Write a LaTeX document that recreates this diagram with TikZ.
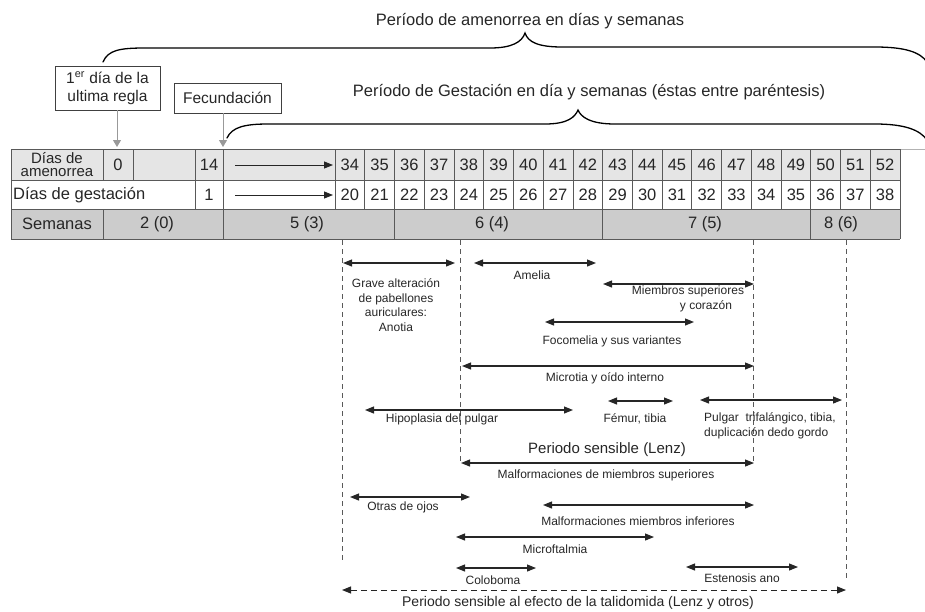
\documentclass[tikz,border=0pt]{standalone}
\usepackage{fontspec}
\setmainfont{Liberation Sans}
\usetikzlibrary{arrows.meta}
\definecolor{txt}{gray}{0.15}
\definecolor{rowa}{gray}{0.9}
\definecolor{rowc}{gray}{0.8}
\definecolor{gridc}{gray}{0.35}
\definecolor{garr}{gray}{0.6}
\definecolor{dshc}{gray}{0.35}
\newcommand{\fsz}[2]{\fontsize{#1}{#2}\selectfont}
\begin{document}
\begin{tikzpicture}[x=1pt,y=-1pt,
  lbl/.style={font=\fsz{12}{14.5}, text=txt, inner sep=0pt, align=center},
  tbl/.style={font=\fsz{16.5}{14}, text=txt, inner sep=0pt, align=center},
  ttl/.style={font=\fsz{16.5}{19}, text=txt, inner sep=0pt},
  dbl/.style={{Triangle[length=9pt,width=7pt]}-{Triangle[length=9pt,width=7pt]}, line width=1.1pt, draw=black!85},
  tarr/.style={-{Triangle[length=9pt,width=7pt]}, line width=0.9pt, draw=black!85},
  vdash/.style={draw=dshc, line width=0.9pt, dash pattern=on 5pt off 4pt},
  hdash/.style={{Triangle[length=9pt,width=7pt]}-{Triangle[length=9pt,width=7pt]}, draw=black!85, line width=1pt, dash pattern=on 6pt off 4pt},
  brc/.style={draw=black, line width=1.3pt, line cap=round},
  gbox/.style={draw=black!75, line width=0.8pt, inner sep=0pt, font=\fsz{15.5}{18}, text=txt, align=center},
  garrow/.style={-{Triangle[length=7pt,width=8pt]}, draw=garr, line width=1pt},
  gridl/.style={draw=gridc, line width=0.8pt}
]
\useasboundingbox (0,0) rectangle (925,611);

% ---------- titles and braces ----------
\node[ttl] (t1) at (530,21) {Período de amenorrea en días y semanas};
\node[ttl] (t2) at (589,92) {Período de Gestación en día y semanas (éstas entre paréntesis)};
\draw[brc] (103,62) .. controls (108,50) and (120,48) .. (145,48) -- (490,48)
  .. controls (512,48) and (522,42) .. (525,33) .. controls (528,42) and (538,47) .. (562,47)
  -- (875,47) .. controls (905,47) and (920,52) .. (927,62);
\draw[brc] (227,138) .. controls (232,127) and (245,124) .. (268,124) -- (545,124)
  .. controls (568,124) and (575,117) .. (578,110) .. controls (581,117) and (590,124) .. (615,124)
  -- (875,124) .. controls (905,124) and (920,130) .. (927,140);

% ---------- boxes ----------
\node[gbox, minimum width=105pt, minimum height=44pt] (b1) at (107.5,88) {1\textsuperscript{er} día de la\\ultima regla};
\node[gbox, minimum width=107pt, minimum height=30pt] (b2) at (227.5,98) {Fecundación};
\coordinate (p0) at (117,147);
\coordinate (p14) at (223,147);
\draw[garrow] (p0 |- b1.south) -- (p0);
\draw[garrow] (p14 |- b2.south) -- (p14);

% ---------- table ----------
\fill[rowa] (11,149) rectangle (900,180);
\fill[white] (11,180) rectangle (900,209);
\fill[rowc] (11,209) rectangle (900,239);
\draw[draw=gray!60, line width=0.8pt] (900,149) -- (925,149);
\foreach \yy in {149,180,209,239} \draw[gridl] (11,\yy) -- (900,\yy);
\foreach \xx in {11,103,133,195,223,335,900} \draw[gridl] (\xx,149) -- (\xx,180);
\foreach \xx in {11,195,223,335,900} \draw[gridl] (\xx,180) -- (\xx,209);
\foreach \xx in {11,103,223,394.47,602.63,810.79,900} \draw[gridl] (\xx,209) -- (\xx,239);
\foreach \i in {1,...,18} \draw[gridl] ({335+\i*565/19},149) -- ({335+\i*565/19},209);
\foreach \i in {0,...,18} {
  \pgfmathsetmacro\xa{335+\i*565/19+14.87}
  \pgfmathtruncatemacro\na{34+\i}
  \pgfmathtruncatemacro\ng{20+\i}
  \node[tbl] (am\na) at (\xa,165) {\na};
  \node[tbl] (ge\ng) at (\xa,195) {\ng};
}
\node[tbl, font=\fsz{15}{13.5}] (hdA) at (57,164.5) {Días de\\amenorrea};
\node[tbl] (n0) at (118,165) {0};
\node[tbl] (n14) at (209,165) {14};
\node[tbl, anchor=west] (hdG) at (13,195) {Días de gestación};
\node[tbl] (n1) at (209,195) {1};
\coordinate (ra1) at (235,165); \coordinate (rb1) at (333,165);
\coordinate (ra2) at (235,195); \coordinate (rb2) at (333,195);
\draw[tarr] (ra1) -- (rb1);
\draw[tarr] (ra2) -- (rb2);
\node[tbl] (hdS) at (57,224) {Semanas};
\node[tbl] (w2) at (157,224) {2 (0)};
\node[tbl] (w5) at (307,224) {5 (3)};
\node[tbl] (w6) at (492,224) {6 (4)};
\node[tbl] (w7) at (705,224) {7 (5)};
\node[tbl] (w8) at (841,224) {8 (6)};

% ---------- dashed verticals ----------
\draw[vdash] (342,240) -- (342,562);
\draw[vdash] (460,240) -- (460,462);
\draw[vdash] (753,240) -- (753,462);
\draw[vdash] (846,240) -- (846,580);

% ---------- ranges ----------
\coordinate (anoL) at (343,263); \coordinate (anoR) at (455,263);
\draw[dbl] (anoL) -- (anoR);
\node[lbl] (anoT) at (396,305) {Grave alteración\\de pabellones\\auriculares:\\Anotia};

\coordinate (ameL) at (474,263); \coordinate (ameR) at (596,263);
\draw[dbl] (ameL) -- (ameR);
\node[lbl] (ameT) at (532,275) {Amelia};

\coordinate (msL) at (603,284); \coordinate (msR) at (754,284);
\draw[dbl] (msL) -- (msR);
\node[lbl] (msT) at (688,299) {Miembros superiores\\\hspace*{36pt}y corazón};

\coordinate (foL) at (545,322); \coordinate (foR) at (694,322);
\draw[dbl] (foL) -- (foR);
\node[lbl] (foT) at (612,341) {Focomelia y sus variantes};

\coordinate (miL) at (462,366); \coordinate (miR) at (754,366);
\draw[dbl] (miL) -- (miR);
\node[lbl] (miT) at (605,378) {Microtia y oído interno};

\coordinate (hiL) at (365,410); \coordinate (hiR) at (573,410);
\draw[dbl] (hiL) -- (hiR);
\node[lbl] (hiT) at (442,419) {Hipoplasia del pulgar};

\coordinate (feL) at (608,401); \coordinate (feR) at (673,401);
\draw[dbl] (feL) -- (feR);
\node[lbl] (feT) at (635,419) {Fémur, tibia};

\coordinate (puL) at (700,400); \coordinate (puR) at (842,400);
\draw[dbl] (puL) -- (puR);
\node[lbl, anchor=west, align=left] (puT) at (704,426) {Pulgar~ trifalángico, tibia,\\duplicación dedo gordo};

\node[lbl, font=\fsz{15}{17}] (leT) at (607,450) {Periodo sensible (Lenz)};
\coordinate (leL) at (461,463); \coordinate (leR) at (754,463);
\draw[dbl] (leL) -- (leR);
\node[lbl] (leB) at (606,475) {Malformaciones de miembros superiores};

\coordinate (ojL) at (350,497); \coordinate (ojR) at (470,497);
\draw[dbl] (ojL) -- (ojR);
\node[lbl] (ojT) at (403,507) {Otras de ojos};

\coordinate (inL) at (543,505); \coordinate (inR) at (754,505);
\draw[dbl] (inL) -- (inR);
\node[lbl] (inT) at (638,521) {Malformaciones miembros inferiores};

\coordinate (mfL) at (456,537); \coordinate (mfR) at (654,537);
\draw[dbl] (mfL) -- (mfR);
\node[lbl] (mfT) at (555,549) {Microftalmia};

\coordinate (coL) at (456,568); \coordinate (coR) at (536,568);
\draw[dbl] (coL) -- (coR);
\node[lbl] (coT) at (493,580) {Coloboma};

\coordinate (esL) at (686,567); \coordinate (esR) at (798,567);
\draw[dbl] (esL) -- (esR);
\node[lbl] (esT) at (742,578) {Estenosis ano};

\coordinate (taL) at (342,590); \coordinate (taR) at (846,590);
\draw[hdash] (taL) -- (taR);
\node[lbl, font=\fsz{14}{16}] (taT) at (578,603) {Periodo sensible al efecto de la talidomida (Lenz y otros)};
\end{tikzpicture}
\end{document}
